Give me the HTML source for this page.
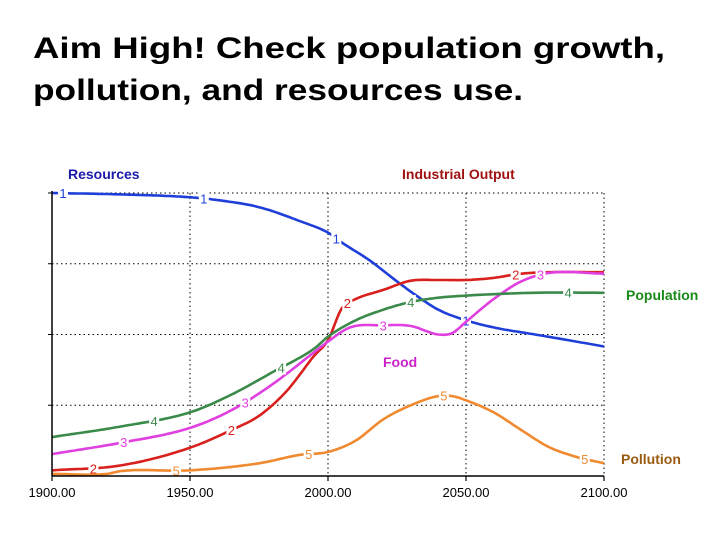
<!DOCTYPE html>
<html><head><meta charset="utf-8"><style>
html,body{margin:0;padding:0;background:#fff;}
svg{display:block;font-family:"Liberation Sans",Arial,sans-serif;}
</style></head><body>
<svg id="chart" width="728" height="546" viewBox="0 0 728 546">
<text x="33" y="58" font-size="29.5" font-weight="bold" fill="#000" textLength="632" lengthAdjust="spacingAndGlyphs">Aim High!  Check population growth,</text>
<text x="33" y="100" font-size="29.5" font-weight="bold" fill="#000" textLength="490" lengthAdjust="spacingAndGlyphs">pollution, and resources use.</text>
<text x="68" y="179" font-size="14" font-weight="bold" fill="#1a1aaa">Resources</text>
<text x="402" y="179" font-size="14" font-weight="bold" fill="#a01010">Industrial Output</text>
<text x="626" y="300" font-size="14" font-weight="bold" fill="#1a8a1a">Population</text>
<text x="383" y="367" font-size="14" font-weight="bold" fill="#cc22cc">Food</text>
<text x="621" y="464" font-size="14" font-weight="bold" fill="#9a5a10">Pollution</text>
<g id="grid"></g>
<g id="series"></g>
<g id="axis"></g>
</svg>
<script>
const years = [1900,1925,1950,1960,1975,1990,2000,2005,2015,2025,2032,2040,2050,2060,2075,2090,2100];
const resources = [4.0,3.98,3.94,3.9,3.8,3.6,3.44,3.3,3.05,2.75,2.55,2.35,2.2,2.1,2.0,1.9,1.83];
const indYears = [1900,1925,1950,1965,1975,1985,1995,2000,2005,2010,2020,2030,2040,2050,2060,2070,2080,2100];
const industrial = [0.08,0.15,0.4,0.65,0.85,1.2,1.7,1.92,2.37,2.5,2.63,2.76,2.77,2.77,2.8,2.86,2.88,2.88];
const foodYears = [1900,1925,1950,1965,1980,1995,2000,2008,2020,2030,2040,2045,2050,2060,2070,2080,2100];
const food = [0.31,0.47,0.68,0.93,1.3,1.75,1.9,2.1,2.13,2.12,2.0,2.02,2.18,2.5,2.75,2.87,2.86];
const popYears = [1900,1925,1950,1965,1980,1995,2000,2010,2020,2030,2040,2050,2060,2075,2100];
const population = [0.55,0.7,0.9,1.15,1.47,1.8,1.97,2.2,2.35,2.46,2.52,2.55,2.57,2.59,2.59];
const polYears = [1900,1920,1925,1950,1975,1990,2000,2010,2020,2030,2040,2045,2050,2060,2070,2080,2090,2100];
const pollution = [0.03,0.03,0.07,0.08,0.18,0.3,0.34,0.5,0.8,1.0,1.13,1.13,1.07,0.9,0.65,0.41,0.27,0.18];
const xTicks = ["1900.00","1950.00","2000.00","2050.00","2100.00"];
const xTickYears = [1900,1950,2000,2050,2100];
const yGrid = [0,1,2,3,4];

const X0=52,X1=604,Y0=476,Y1=193;
const xs = y => X0 + (y-1900)/200*(X1-X0);
const ys = v => Y0 - v/4*(Y0-Y1);
const NS="http://www.w3.org/2000/svg";
function mk(tag, attrs, parent){const e=document.createElementNS(NS,tag);for(const k in attrs)e.setAttribute(k,attrs[k]);parent.appendChild(e);return e;}
const grid=document.getElementById('grid'), ser=document.getElementById('series'), ax=document.getElementById('axis');

yGrid.forEach(v=>{ if(v===0) return;
  const l=mk('line',{x1:X0,x2:X1,y1:ys(v),y2:ys(v),stroke:'#000','stroke-width':1,'stroke-dasharray':'1.5,3'},grid);
  
  
  const t=mk('line',{x1:X0-4,x2:X0,y1:ys(v),y2:ys(v),stroke:'#000','stroke-width':1},grid);
  
  
});
xTickYears.forEach((yr,i)=>{
  if(i>0){const l=mk('line',{x1:xs(yr),x2:xs(yr),y1:Y1,y2:Y0,stroke:'#000','stroke-width':1,'stroke-dasharray':'1.5,3'},grid);
  
  }
  const t=mk('line',{x1:xs(yr),x2:xs(yr),y1:Y0,y2:Y0+5,stroke:'#000','stroke-width':1.2},ax);
  
  
  const tx=mk('text',{x:xs(yr),y:Y0+21,'font-size':13,'text-anchor':'middle',fill:'#000'},ax);
  tx.textContent=xTicks[i];
  
  
});
const xa=mk('line',{x1:X0,x2:X1,y1:Y0,y2:Y0,stroke:'#000','stroke-width':1.5},ax);


const ya=mk('line',{x1:X0,x2:X0,y1:Y1-2,y2:Y0,stroke:'#000','stroke-width':1.5},ax);



function interp(xa,va,x){
  const n=xa.length;
  for(let i=0;i<n-1;i++){
    if(x>=xa[i]&&x<=xa[i+1]){
      const h=xa[i+1]-xa[i], t=(x-xa[i])/h;
      const slope=(a,b)=> (va[b]-va[a])/(xa[b]-xa[a]);
      const m0 = i>0 ? (slope(i-1,i)+slope(i,i+1))/2 : slope(i,i+1);
      const m1 = i<n-2 ? (slope(i,i+1)+slope(i+1,i+2))/2 : slope(i,i+1);
      const t2=t*t,t3=t2*t;
      return (2*t3-3*t2+1)*va[i]+(t3-2*t2+t)*h*m0+(-2*t3+3*t2)*va[i+1]+(t3-t2)*h*m1;
    }
  }
  return va[n-1];
}
const defs=[
 {name:'resources',yr:years,v:resources,c:'#1f3fd8',n:'1',m:[1904,1955,2003,2050]},
 {name:'industrial-output',yr:indYears,v:industrial,c:'#d8201c',n:'2',m:[1915,1965,2007,2068]},
 {name:'food',yr:foodYears,v:food,c:'#e040e0',n:'3',m:[1926,1970,2020,2077]},
 {name:'population',yr:popYears,v:population,c:'#3a8a4a',n:'4',m:[1937,1983,2030,2087]},
 {name:'pollution',yr:polYears,v:pollution,c:'#f08a30',n:'5',m:[1945,1993,2042,2093]}
];
defs.forEach(d=>{
  let p='';
  for(let yr=1900;yr<=2100;yr+=1){const v=interp(d.yr,d.v,yr);p+=(yr===1900?'M':'L')+xs(yr).toFixed(1)+','+ys(v).toFixed(1);}
  const path=mk('path',{d:p,fill:'none',stroke:d.c,'stroke-width':2.6,'stroke-linejoin':'round'},ser);
  
  
  d.m.forEach(yr=>{
    const v=interp(d.yr,d.v,yr);
    const r=mk('rect',{x:xs(yr)-5,y:ys(v)-7,width:10,height:14,fill:'#fff'},ser);
    
    
    const t=mk('text',{x:xs(yr),y:ys(v)+5,'font-size':13,'text-anchor':'middle',fill:d.c},ser);
    t.textContent=d.n;
    
    
  });
});
</script>
</body></html>
